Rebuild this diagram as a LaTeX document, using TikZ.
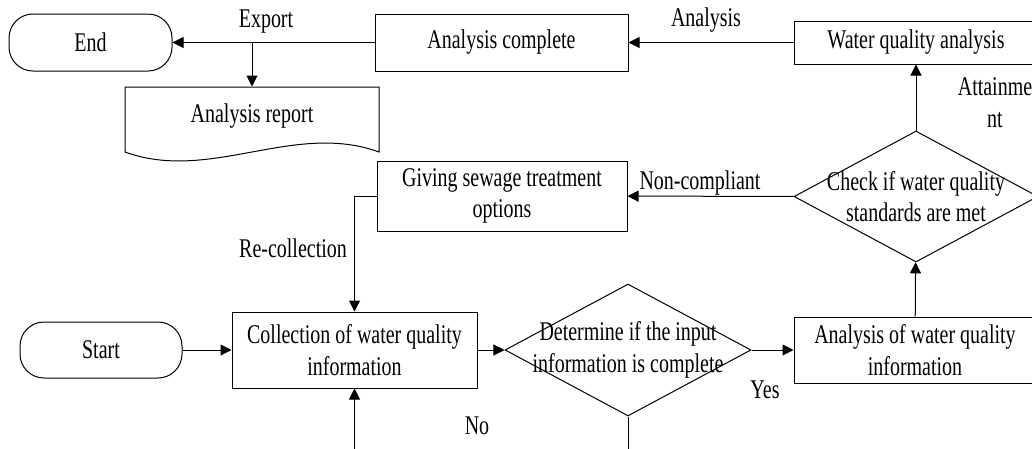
\documentclass[tikz,border=0pt]{standalone}
\usepackage{fontspec}
\setmainfont[FakeStretch=0.74]{Liberation Serif}
\usepackage{tikz}
\usetikzlibrary{arrows.meta,shapes.geometric}
\tikzset{
  box/.style={draw,rectangle,inner sep=0pt,align=center},
  term/.style={draw,rectangle,rounded corners=24pt,inner sep=0pt},
  decide/.style={draw,diamond,inner sep=0pt},
  lbl/.style={inner sep=0pt,align=center}
}

\begin{document}
\begin{tikzpicture}[x=1pt,y=-1pt,line width=1pt,>={Triangle[length=11pt,width=11pt]},font=\fontsize{27}{31.7}\selectfont]
\clip (0,0) rectangle (1032,448);
% top row
\node[term,minimum width=163pt,minimum height=57pt](endn) at (90.5,42.5){End};
\node[box,minimum width=253pt,minimum height=57pt](done) at (501.5,42.5){Analysis complete};
\node[box,minimum width=244pt,minimum height=43pt](wqa) at (916,42.5){Water quality analysis};
\node[lbl,minimum width=254pt,minimum height=58pt](report) at (252,116){Analysis report};
\draw (125,87)--(379,87)--(379,152) .. controls (294,121) and (210,183) .. (125,152)--cycle;
% middle row
\node[box,minimum width=250pt,minimum height=70pt](sewage) at (502,196){Giving sewage treatment\\options};
\node[decide,minimum width=244pt,minimum height=131pt](check) at (916,196.5){};
\node[lbl] at (check){Check if water quality\\standards are met};
% bottom row
\node[term,minimum width=162pt,minimum height=56pt](start) at (101,350){Start};
\node[box,minimum width=245pt,minimum height=76pt](collect) at (354.5,350){Collection of water quality\\information};
\node[decide,minimum width=246pt,minimum height=132pt](judge) at (628,350){};
\node[lbl] at (judge){Determine if the input\\information is complete};
\node[box,minimum width=242pt,minimum height=66pt](awqi) at (915,350){Analysis of water quality\\information};
% connectors
\draw[->](start)--(collect);
\draw[->](collect)--(judge);
\draw[->](judge)--(awqi);
\draw[->](awqi)--(check);
\draw[->](check)--(wqa);
\draw[->](check)--(sewage);
\draw[->](sewage.west)-|(collect.north);
\draw[->](judge.south)--++(0,60)-|(collect.south);
\draw[->](wqa)--(done);
\draw[->](done)--(endn);
\coordinate(split) at (report.north |- done.west);
\draw[->](split)--(report.north);
% labels
\node[lbl] at (266,22){Export};
\node[lbl] at (706,20){Analysis};
\node[lbl] at (995,103){Attainme\\nt};
\node[lbl] at (700,183){Non-compliant};
\node[lbl] at (293,248){Re-collection};
\node[lbl] at (765,390){Yes};
\node[lbl] at (477,426){No};
\end{tikzpicture}
\end{document}
